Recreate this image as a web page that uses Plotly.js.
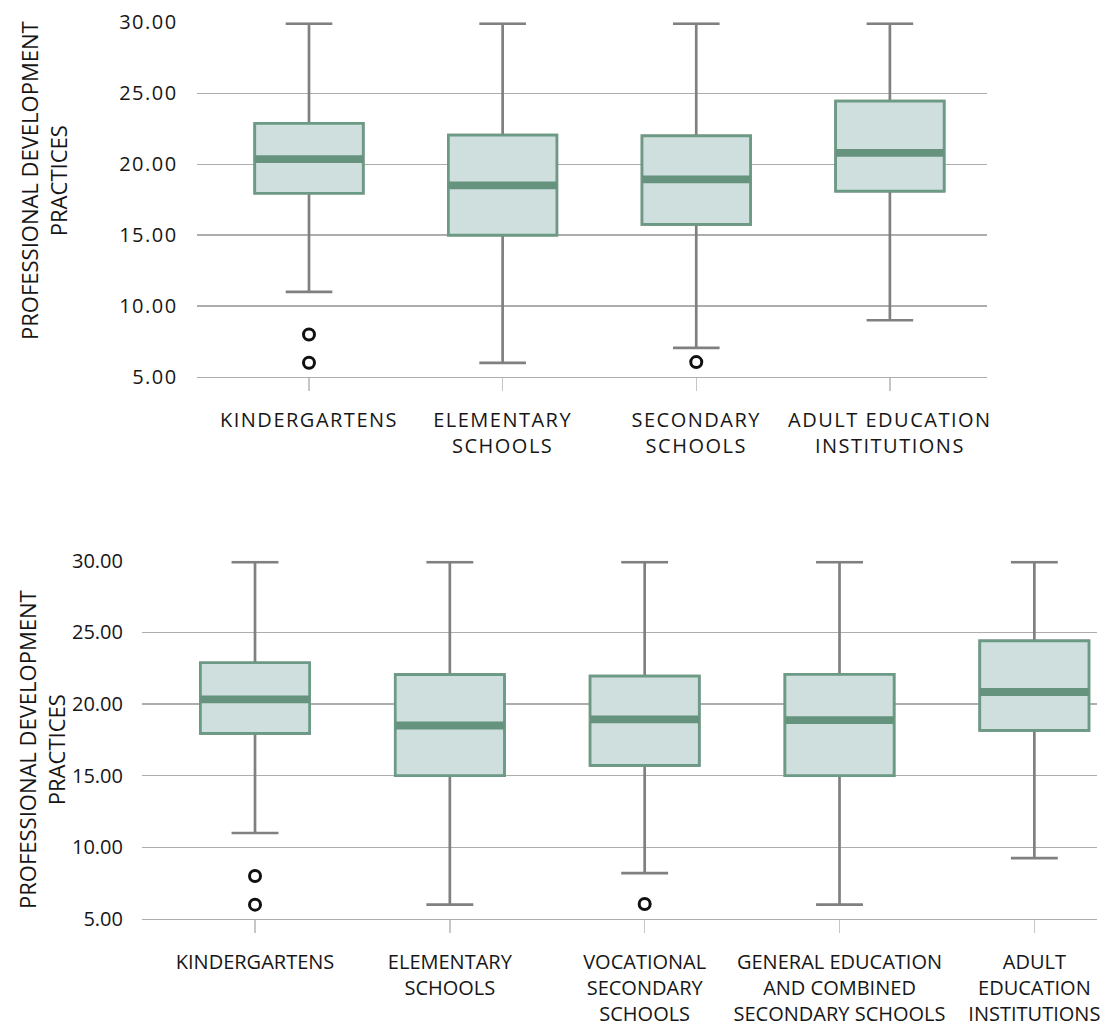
<!DOCTYPE html>
<html>
<head>
<meta charset="utf-8">
<script src="https://cdn.plot.ly/plotly-3.0.1.min.js"></script>
<style>
  html, body { margin: 0; padding: 0; background: #ffffff; }
  #chart { width: 1116px; height: 1023px; }
  .xtick text, .ytick text { letter-spacing: 1.5px; }
</style>
</head>
<body>
<div id="chart"></div>
<script>
// ---------- Data: top chart ----------
const catsTop = ['KINDERGARTENS', 'ELEMENTARY<br>SCHOOLS', 'SECONDARY<br>SCHOOLS', 'ADULT EDUCATION<br>INSTITUTIONS'];
const minTop = [11.0, 6.0, 7.05, 9.0];
const q1Top = [17.95, 15.0, 15.76, 18.1];
const medTop = [20.35, 18.5, 18.93, 20.8];
const q3Top = [22.88, 22.05, 22.0, 24.45];
const maxTop = [29.9, 29.9, 29.9, 29.9];
const outXTop = ['KINDERGARTENS', 'KINDERGARTENS', 'SECONDARY<br>SCHOOLS'];
const outYTop = [8.0, 6.0, 6.05];

// ---------- Data: bottom chart ----------
const catsBot = ['KINDERGARTENS', 'ELEMENTARY<br>SCHOOLS', 'VOCATIONAL<br>SECONDARY<br>SCHOOLS', 'GENERAL EDUCATION<br>AND COMBINED<br>SECONDARY SCHOOLS', 'ADULT<br>EDUCATION<br>INSTITUTIONS'];
const minBot = [11.0, 6.0, 8.2, 6.0, 9.25];
const q1Bot = [17.95, 15.0, 15.72, 15.0, 18.16];
const medBot = [20.33, 18.5, 18.93, 18.88, 20.84];
const q3Bot = [22.88, 22.05, 21.95, 22.07, 24.4];
const maxBot = [29.9, 29.9, 29.9, 29.9, 29.9];
const outXBot = ['KINDERGARTENS', 'KINDERGARTENS', 'VOCATIONAL<br>SECONDARY<br>SCHOOLS'];
const outYBot = [8.0, 6.0, 6.05];

const yTitle = 'PROFESSIONAL DEVELOPMENT<br>PRACTICES';

// ---------- Styles ----------
const FONT = '"Open Sans", "Noto Sans", sans-serif';
const TXT = '#161616';
const GRAY = '#808080';
const GREEN = '#6b9a85';
const MEDIAN_GREEN = '#66937d';
const FILL = '#cfdfde';
const BOXW = 0.56;

function boxSet(cats, mins, q1, med, q3, maxs, outX, outY, xa, ya) {
  const common = { type: 'box', x: cats, xaxis: xa, yaxis: ya, boxpoints: false,
                   width: BOXW, hoverinfo: 'skip', showlegend: false };
  return [
    // whiskers (gray)
    Object.assign({}, common, {
      q1: q1, median: med, q3: q3, lowerfence: mins, upperfence: maxs,
      line: { color: GRAY, width: 2.7 }, fillcolor: 'rgba(0,0,0,0)', whiskerwidth: 0.43
    }),
    // box (green outline, light fill)
    Object.assign({}, common, {
      q1: q1, median: med, q3: q3, lowerfence: q1, upperfence: q3,
      line: { color: GREEN, width: 2.7 }, fillcolor: FILL, whiskerwidth: 0
    }),
    // thick median band
    Object.assign({}, common, {
      q1: med, median: med, q3: med, lowerfence: med, upperfence: med,
      line: { color: MEDIAN_GREEN, width: 7.8 }, fillcolor: 'rgba(0,0,0,0)', whiskerwidth: 0
    }),
    // outliers
    { type: 'scatter', mode: 'markers', x: outX, y: outY, xaxis: xa, yaxis: ya,
      marker: { symbol: 'circle-open', size: 11, color: '#111111', line: { width: 3, color: '#111111' } },
      hoverinfo: 'skip', showlegend: false, cliponaxis: false }
  ];
}

const data = [].concat(
  boxSet(catsTop, minTop, q1Top, medTop, q3Top, maxTop, outXTop, outYTop, 'x', 'y'),
  boxSet(catsBot, minBot, q1Bot, medBot, q3Bot, maxBot, outXBot, outYBot, 'x2', 'y2')
);

function xAxis(cats, domain, anchor, range) {
  return {
    domain: domain, anchor: anchor, type: 'category',
    categoryorder: 'array', categoryarray: cats, range: range,
    showgrid: false, zeroline: false,
    showline: true, linecolor: '#adadad', linewidth: 1.3,
    ticks: 'outside', ticklen: 13, tickwidth: 1.5, tickcolor: '#c6c6c6',
    ticklabelstandoff: 12,
    tickfont: { family: FONT, size: 20, color: TXT, weight: 500 },
    automargin: false, fixedrange: true
  };
}
function yAxis(domain, anchor) {
  return {
    domain: domain, anchor: anchor, range: [5, 30],
    tick0: 5, dtick: 5, tickformat: '.2f',
    showgrid: true, gridcolor: '#adadad', gridwidth: 1.3,
    zeroline: false, showline: false, ticks: '',
    ticklabelstandoff: 18,
    tickfont: { family: FONT, size: 20, color: TXT, weight: 500 },
    automargin: false, fixedrange: true
  };
}

const layout = {
  width: 1116, height: 1023,
  margin: { l: 0, r: 0, t: 0, b: 0 },
  paper_bgcolor: '#ffffff', plot_bgcolor: '#ffffff',
  boxmode: 'overlay',
  showlegend: false,
  xaxis: xAxis(catsTop, [0.17625, 0.88414], 'y', [-0.58, 3.5]),
  yaxis: yAxis([0.63148, 0.97820], 'x'),
  xaxis2: xAxis(catsBot, [0.12724, 0.98271], 'y2', [-0.58, 4.32]),
  yaxis2: yAxis([0.10166, 0.45191], 'x2'),
  annotations: [
    { text: yTitle, xref: 'paper', yref: 'paper', x: 43 / 1116, y: 1 - 181 / 1023,
      xanchor: 'center', yanchor: 'middle', textangle: -90, showarrow: false,
      font: { family: FONT, size: 22, color: TXT, weight: 500 } },
    { text: yTitle, xref: 'paper', yref: 'paper', x: 41 / 1116, y: 1 - 750 / 1023,
      xanchor: 'center', yanchor: 'middle', textangle: -90, showarrow: false,
      font: { family: FONT, size: 22, color: TXT, weight: 500 } }
  ]
};

Plotly.newPlot('chart', data, layout, { staticPlot: true, displayModeBar: false });
</script>
</body>
</html>
